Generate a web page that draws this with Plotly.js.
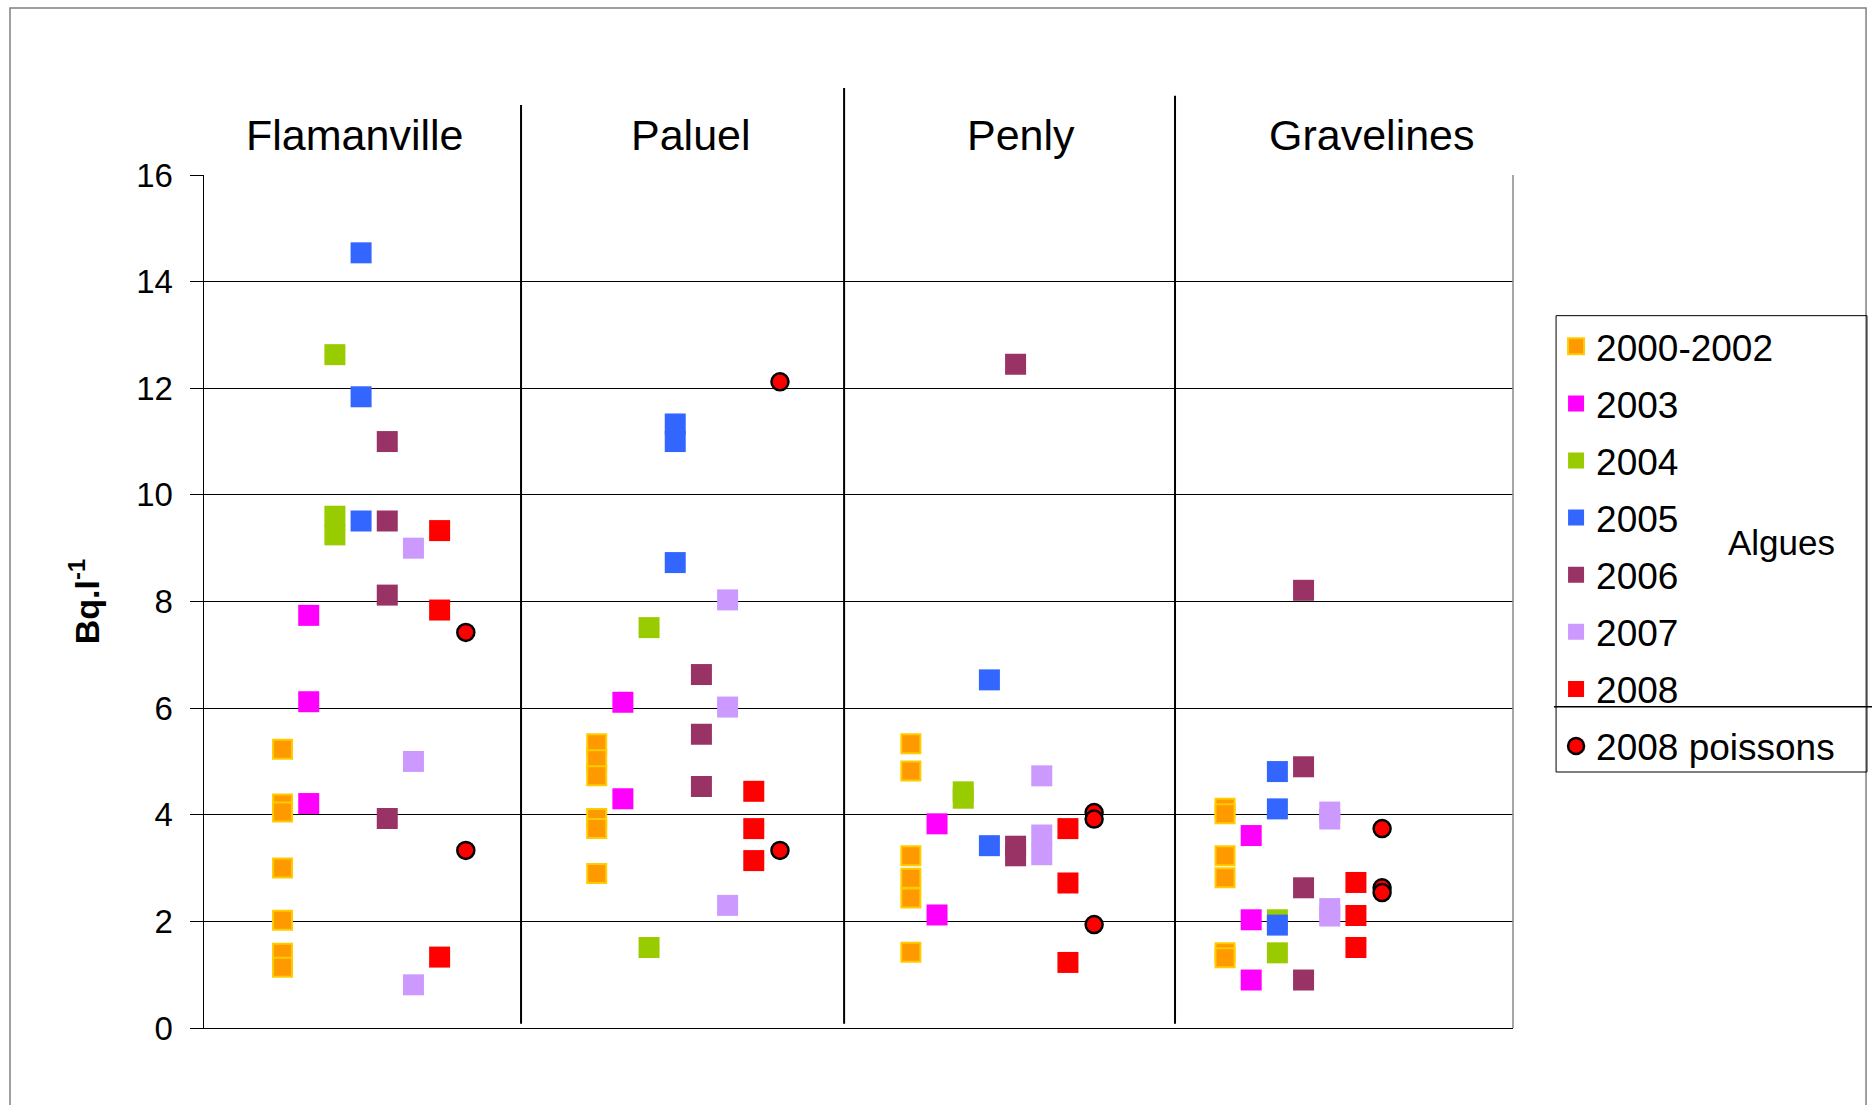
<!DOCTYPE html>
<html>
<head>
<meta charset="utf-8">
<script src="https://cdn.plot.ly/plotly-3.0.1.min.js"></script>
<style>
  html, body { margin: 0; padding: 0; background: #ffffff; }
  #chart { width: 1872px; height: 1105px; }
</style>
</head>
<body>
<div id="chart"></div>
<script>
// ---------------- DATA ----------------
const sites = ['Flamanville', 'Paluel', 'Penly', 'Gravelines'];
const seriesNames = ['2000-2002', '2003', '2004', '2005', '2006', '2007', '2008', '2008 poissons'];
const yTickValues = [0, 2, 4, 6, 8, 10, 12, 14, 16];
const yTickLabels = ['0', '2', '4', '6', '8', '10', '12', '14', '16'];

// values per site: [Flamanville, Paluel, Penly, Gravelines]  (Bq.l-1)
const s2000_2002 = [[5.23, 4.2, 4.05, 3.0, 2.02, 1.4, 1.14], [5.33, 5.03, 4.73, 3.93, 3.74, 2.9], [5.33, 4.82, 3.23, 2.81, 2.44, 1.42], [4.12, 4.02, 3.23, 2.82, 1.41, 1.32]];
const s2003 = [[7.74, 6.12, 4.21], [6.11, 4.30], [3.83, 2.12], [3.61, 2.03, 0.9]];
const s2004 = [[12.63, 9.6, 9.25], [7.51, 1.51], [4.43, 4.31], [2.03, 1.41]];
const s2005 = [[14.54, 11.84, 9.51], [11.33, 11.0, 8.73], [6.53, 3.42], [4.81, 4.11, 1.93]];
const s2006 = [[11.0, 9.51, 8.12, 3.93], [6.63, 5.51, 4.53], [12.45, 3.41, 3.23], [8.21, 4.90, 2.63, 0.9]];
const s2007 = [[9.0, 5.0, 0.81], [8.03, 6.02, 2.3], [4.73, 3.62, 3.25], [4.05, 3.92, 2.24, 2.1]];
const s2008 = [[9.33, 7.84, 1.33], [4.44, 3.74, 3.14], [3.74, 2.72, 1.23], [2.73, 2.11, 1.51]];
const s2008poissons = [[7.42, 3.33], [12.12, 3.33], [4.04, 3.92, 1.94], [3.74, 2.63, 2.54]];

const allSeries = [s2000_2002, s2003, s2004, s2005, s2006, s2007, s2008, s2008poissons];

// ---------------- LAYOUT / STYLE ----------------
const FONT = 'Liberation Sans, Arial, sans-serif';
// column slot of each series inside each site block (Gravelines shares 2004/2005 column)
const slots = [
  [0, 1, 2, 3, 4, 5, 6, 7],
  [0, 1, 2, 3, 4, 5, 6, 7],
  [0, 1, 2, 3, 4, 5, 6, 7],
  [0, 1, 2, 2, 3, 4, 5, 6]
];
const blockStart = 3, blockWidth = 12;

const styles = [
  { symbol: 'square', color: '#FF9900', size: 19, line: { color: '#FFCC00', width: 2 } },
  { symbol: 'square', color: '#FF00FF', size: 21, line: { width: 0 } },
  { symbol: 'square', color: '#99CC00', size: 21, line: { width: 0 } },
  { symbol: 'square', color: '#3366FF', size: 21, line: { width: 0 } },
  { symbol: 'square', color: '#993366', size: 21, line: { width: 0 } },
  { symbol: 'square', color: '#CC99FF', size: 21, line: { width: 0 } },
  { symbol: 'square', color: '#FF0000', size: 21, line: { width: 0 } },
  { symbol: 'circle', color: '#FF0000', size: 17, line: { color: '#000000', width: 2.5 } }
];

const traces = allSeries.map((ser, i) => {
  const xs = [], ys = [];
  ser.forEach((vals, k) => {
    vals.forEach(v => {
      xs.push(blockStart + blockWidth * k + slots[k][i]);
      ys.push(v);
    });
  });
  return {
    type: 'scatter',
    mode: 'markers',
    name: seriesNames[i],
    legendgroup: 'g' + i,
    x: xs,
    y: ys,
    marker: styles[i],
    hoverinfo: 'skip'
  };
});

// site header label positions (x data units) and separators
const headerX = [5.75, 18.6, 31.2, 44.6];
const separators = [
  { x: 12.11, top: 1.082 },
  { x: 24.45, top: 1.102 },
  { x: 37.09, top: 1.093 }
];

const annotations = sites.map((s, k) => ({
  text: s, x: headerX[k], xref: 'x', y: 1.047, yref: 'paper',
  xanchor: 'center', yanchor: 'middle', showarrow: false,
  font: { family: FONT, size: 43, color: '#000000' }
}));
annotations.push({
  text: 'Algues', x: 1.2055, xref: 'paper', y: 0.5686, yref: 'paper',
  xanchor: 'center', yanchor: 'middle', showarrow: false,
  font: { family: FONT, size: 35, color: '#000000' }
});

const shapes = [];
separators.forEach(s => {
  shapes.push({ type: 'line', xref: 'x', yref: 'paper', x0: s.x, x1: s.x, y0: 0.005, y1: s.top,
    line: { color: '#000000', width: 2 } });
});
// right edge of plot area
shapes.push({ type: 'line', xref: 'paper', yref: 'paper', x0: 1, x1: 1, y0: 0, y1: 1,
  line: { color: '#888888', width: 1.5 } });
// legend frame and separator
shapes.push({ type: 'rect', xref: 'paper', yref: 'paper', x0: 1.0329, x1: 1.2704, y0: 0.3001, y1: 0.8351,
  line: { color: '#000000', width: 1 }, fillcolor: 'rgba(0,0,0,0)' });
shapes.push({ type: 'line', xref: 'paper', yref: 'paper', x0: 1.0313, x1: 1.2842, y0: 0.3767, y1: 0.3767,
  line: { color: '#000000', width: 1.5 } });
// outer chart frame
shapes.push({ type: 'rect', xref: 'paper', yref: 'paper', x0: -0.1482, x1: 1.2697, y0: -0.12, y1: 1.1958,
  line: { color: '#808080', width: 1.5 }, fillcolor: 'rgba(0,0,0,0)', layer: 'below' });

const layout = {
  width: 1872,
  height: 1105,
  paper_bgcolor: '#ffffff',
  plot_bgcolor: '#ffffff',
  margin: { l: 204, r: 359, t: 175, b: 77, pad: 0 },
  font: { family: FONT, color: '#000000' },
  showlegend: true,
  legend: {
    x: 1.0329, xanchor: 'left', y: 0.835, yanchor: 'top',
    font: { family: FONT, size: 37, color: '#000000' },
    bgcolor: 'rgba(0,0,0,0)', borderwidth: 0,
    tracegroupgap: 6, traceorder: 'grouped'
  },
  xaxis: {
    range: [0, 50], showgrid: false, zeroline: false, showticklabels: false, ticks: '',
    showline: true, linecolor: '#000000', linewidth: 1, fixedrange: true
  },
  yaxis: {
    range: [0, 16], tickmode: 'array', tickvals: yTickValues, ticktext: yTickLabels,
    showgrid: true, gridcolor: '#000000', gridwidth: 1,
    zeroline: false, showline: true, linecolor: '#000000', linewidth: 1.5,
    ticks: 'outside', ticklen: 13, tickcolor: '#000000', tickwidth: 1,
    ticklabelstandoff: 10,
    tickfont: { family: FONT, size: 33, color: '#000000' },
    title: { text: '<b>Bq.l<sup>-1</sup></b>', font: { family: FONT, size: 34, color: '#000000' }, standoff: 26 },
    fixedrange: true
  },
  annotations: annotations,
  shapes: shapes
};

Plotly.newPlot('chart', traces, layout, { displayModeBar: false, staticPlot: true });
</script>
</body>
</html>
